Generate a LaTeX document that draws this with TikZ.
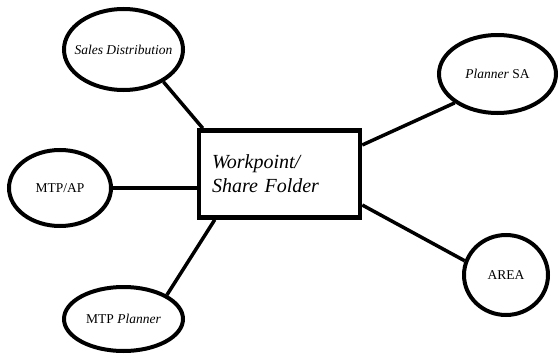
\documentclass[tikz,border=0pt]{standalone}
\usepackage{fontspec}
\setmainfont{Liberation Serif}
\usetikzlibrary{shapes.geometric,calc}
\newcommand{\bubtext}[1]{\makebox[0pt][c]{#1}}
\begin{document}
\begin{tikzpicture}[x=1pt,y=-1pt,
  bubble/.style={draw,ellipse,line width=4pt,inner sep=0pt,font=\fontsize{13.5}{15}\selectfont},
  mainbox/.style={draw,rectangle,line width=4.5pt,inner xsep=13pt,inner ysep=0pt,text width=135pt,align=left,minimum height=87pt,font=\fontsize{20}{24}\selectfont\itshape},
  link/.style={line width=3.5pt}]
\useasboundingbox[fill=white] (0,0) rectangle (560,356);
\node[mainbox] (box) at (279.5,174) {Workpoint/\\Share Folder};
\node[bubble,minimum width=119pt,minimum height=81pt] (sd) at (123.5,49.5) {\bubtext{\itshape Sales Distribution}};
\node[bubble,minimum width=117pt,minimum height=78pt] (psa) at (497.5,74) {\bubtext{\textit{Planner} SA}};
\node[bubble,minimum width=102pt,minimum height=76pt] (ap) at (60,188) {\bubtext{MTP/AP}};
\node[bubble,minimum width=119pt,minimum height=64pt] (mp) at (123.5,319) {\bubtext{MTP \textit{Planner}}};
\node[bubble,minimum width=84pt,minimum height=80pt] (area) at (506,275) {\bubtext{AREA}};
\draw[link] (sd.-39) -- ($(box.north west)+(6,0)$);
\draw[link] (psa.-146) -- ($(box.east)+(0,-29)$);
\draw[link] (area.161) -- ($(box.east)+(0,31)$);
\draw[link] (mp.29) -- ($(box.south west)+(18,0)$);
\draw[link] (ap.east) -- (ap.east -| box.west);
\end{tikzpicture}
\end{document}
